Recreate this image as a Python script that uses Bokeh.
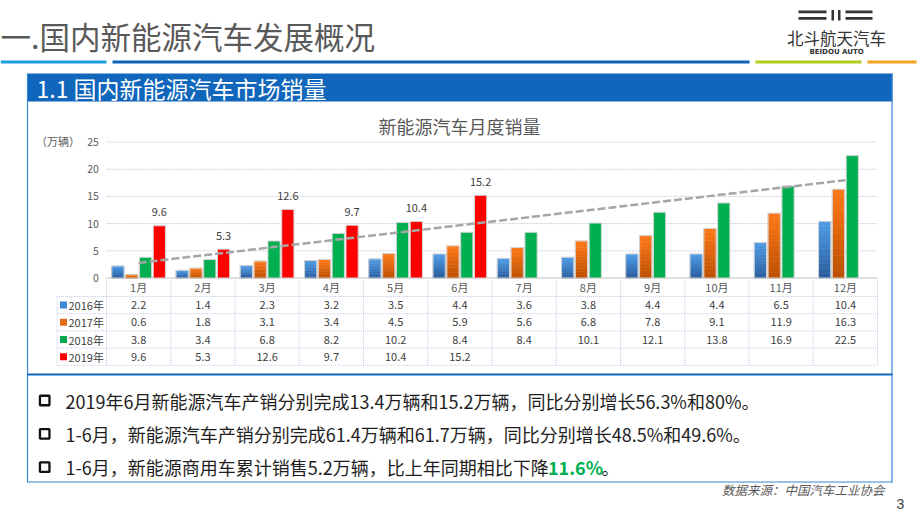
import numpy as np
from bokeh.plotting import figure
from bokeh.models import Range1d
from bokeh.core.properties import value
from bokeh.embed import file_html
from bokeh.resources import INLINE

# ---------------- data ----------------
months = ["1月", "2月", "3月", "4月", "5月", "6月", "7月", "8月", "9月", "10月", "11月", "12月"]
years = ["2016年", "2017年", "2018年", "2019年"]
s2016 = [2.2, 1.4, 2.3, 3.2, 3.5, 4.4, 3.6, 3.8, 4.4, 4.4, 6.5, 10.4]
s2017 = [0.6, 1.8, 3.1, 3.4, 4.5, 5.9, 5.6, 6.8, 7.8, 9.1, 11.9, 16.3]
s2018 = [3.8, 3.4, 6.8, 8.2, 10.2, 8.4, 8.4, 10.1, 12.1, 13.8, 16.9, 22.5]
s2019 = [9.6, 5.3, 12.6, 9.7, 10.4, 15.2]
y_ticks = [0, 5, 10, 15, 20, 25]

page_title = "一.国内新能源汽车发展概况"
section_title = "1.1 国内新能源汽车市场销量"
chart_title = "新能源汽车月度销量"
unit_label = "（万辆）"
bullets = [
    "2019年6月新能源汽车产销分别完成13.4万辆和15.2万辆，同比分别增长56.3%和80%。",
    "1-6月，新能源汽车产销分别完成61.4万辆和61.7万辆，同比分别增长48.5%和49.6%。",
    "1-6月，新能源商用车累计销售5.2万辆，比上年同期相比下降",
]
highlight = "11.6%"
source_note = "数据来源：中国汽车工业协会"

# ---------------- layout ----------------
W, H = 920, 518
X0, Y0 = 0, 0
CJK = "Noto Sans CJK SC"

p = figure(width=W, height=H, output_backend="svg", toolbar_location=None,
           x_range=Range1d(X0, X0 + W), y_range=Range1d(Y0 + H, Y0),
           x_axis_location=None, y_axis_location=None, min_border=0,
           outline_line_color=None, background_fill_color="white")
p.grid.visible = False

# chart scales (category units / value units) mapped over the same frame
PX_L, CAT_W = 106.0, 64.25
Y_ZERO, PX_PER = 277.5, 5.44
p.extra_x_ranges = {"cx": Range1d((X0 - PX_L) / CAT_W, (X0 + W - PX_L) / CAT_W)}
p.extra_y_ranges = {"cy": Range1d((Y_ZERO - (Y0 + H)) / PX_PER, (Y_ZERO - Y0) / PX_PER)}
CH = dict(x_range_name="cx", y_range_name="cy")


def txt(x, y, s, size, color="#404040", align="left", baseline="middle",
        font=CJK, style="normal", **kw):
    if not isinstance(x, (list, tuple)):
        x, y, s = [x], [y], [s]
    p.text(x=x, y=y, text=s, text_font=value(font), text_font_size=f"{size}px",
           text_color=color, text_align=align, text_baseline=baseline,
           text_font_style=style, **kw)


def mix(c1, c2, t):
    a = [int(c1[i:i + 2], 16) for i in (1, 3, 5)]
    b = [int(c2[i:i + 2], 16) for i in (1, 3, 5)]
    return "#%02x%02x%02x" % tuple(round(a[k] + (b[k] - a[k]) * t) for k in range(3))


# ---------------- header ----------------
txt(0, 35, page_title, 30.5, color="#595959")
p.segment(x0=[0, 112, 755, 867], x1=[106, 749, 861, 916], y0=[61.5] * 4, y1=[61.5] * 4,
          line_color=["#1d9fe2", "#0e62b6", "#b2cb1c", "#f6a321"], line_width=3)

# logo
p.quad(left=[798, 798, 845, 845], right=[826, 826, 872, 872],
       top=[10, 16.5, 10, 16.5], bottom=[12.8, 19.3, 12.8, 19.3], fill_color="#333333", line_color=None)
p.quad(left=[831, 837.5], right=[833.5, 840], top=[9.5, 9.5], bottom=[20, 20],
       fill_color="#333333", line_color=None)
txt(836, 37.5, "北斗航天汽车", 16.5, color="#333333", align="center")
txt(836, 51.5, "BEIDOU AUTO", 7, color="#333333", align="center", font="DejaVu Sans", style="bold")

# section band and frame
p.quad(left=[27], right=[892], top=[73], bottom=[101], fill_color="#1066bb", line_color=None)
txt(36, 87.5, section_title, 23, color="white")
p.segment(x0=[27, 891.5, 27], x1=[27, 891.5, 892], y0=[73, 73, 481.5], y1=[482, 482, 481.5],
          line_color="#3a86d4", line_width=1.2)
p.segment(x0=[27], x1=[892], y0=[374], y1=[374], line_color="#0e66bb", line_width=2)

# ---------------- chart ----------------
txt(459, 125, chart_title, 18, color="#595959", align="center")
txt(57.5, 140.5, unit_label, 11, color="#595959", align="center")

# gridlines & axis
gl = y_ticks[1:]
p.segment(x0=[0] * len(gl), x1=[12] * len(gl), y0=gl, y1=gl, line_color="#cdd0e4",
          line_width=1, line_dash="2 1", **CH)
p.segment(x0=[0], x1=[12], y0=[0], y1=[0], line_color="#bfbfbf", line_width=1, **CH)
txt([-0.12] * len(y_ticks), y_ticks, [str(t) for t in y_ticks], 10.5, color="#595959",
    align="right", **CH)

# bars
offsets = [-0.3225, -0.1075, 0.1075, 0.3225]
BW = 0.19
series = [s2016, s2017, s2018, s2019]
grads = [("#2a5c9c", "#4f9de8"), ("#bb4f00", "#ff7a1a"), ("#00b050", "#00b050"), ("#ff0000", "#ff0000")]
N = 12
for j, vals in enumerate(series):
    xs = [i + 0.5 + offsets[j] for i in range(len(vals))]
    c0, c1 = grads[j]
    if c0 != c1:
        bx, bb, bt, bc = [], [], [], []
        for x, v in zip(xs, vals):
            for k in range(N):
                bx.append(x)
                bb.append(v * k / N)
                bt.append(v * (k + 1) / N)
                bc.append(mix(c0, c1, (k + 0.5) / N))
        p.vbar(x=bx, bottom=bb, top=bt, width=BW, fill_color=bc, line_color=bc,
               line_width=0.6, **CH)
        p.vbar(x=xs, top=vals, bottom=0, width=BW, fill_alpha=0, line_color="#d4d4d4",
               line_width=1, **CH)
    else:
        p.vbar(x=xs, top=vals, bottom=0, width=BW, fill_color=c0, line_color="#d4d4d4",
               line_width=1, **CH)

# data labels (2019)
txt([i + 0.5 + offsets[3] for i in range(len(s2019))], [v + 2.5 for v in s2019],
    [f"{v:.1f}" for v in s2019], 11, color="#404040", align="center", **CH)

# trend line (linear fit of 2018)
xi = np.arange(1, 13)
k1, k0 = np.polyfit(xi, s2018, 1)
p.line(x=[0.5, 11.5], y=[k1 * 1 + k0, k1 * 12 + k0], line_color="#a6a6a6",
       line_width=2.5, line_dash="8 3", **CH)

# ---------------- data table ----------------
T_TOP, ROW_H, T_LEFT, T_RIGHT = 296.0, 17.2, 56.7, 877.0
T_BOT = T_TOP + ROW_H * len(years)
tbl = dict(line_color="#c8cbe6", line_width=1, line_dash="1 1")
hy = [T_TOP + ROW_H * r for r in range(len(years) + 1)]
p.segment(x0=[T_LEFT] * len(hy), x1=[T_RIGHT] * len(hy), y0=hy, y1=hy, **tbl)
p.segment(x0=list(range(13)), x1=list(range(13)), y0=[Y_ZERO] * 13, y1=[T_BOT] * 13,
          x_range_name="cx", **tbl)
p.segment(x0=[T_LEFT], x1=[T_LEFT], y0=[T_TOP], y1=[T_BOT], **tbl)

txt([i + 0.5 for i in range(12)], [286.5] * 12, months, 11, color="#595959", align="center",
    x_range_name="cx")
key_cols = ["#3f86d4", "#e0691a", "#00a84f", "#ff0000"]
for j, (yl, vals) in enumerate(zip(years, series)):
    yc = T_TOP + ROW_H * (j + 0.5)
    p.rect(x=[63], y=[yc], width=7, height=7, width_units="screen", height_units="screen",
           fill_color=key_cols[j], line_color=None)
    txt(68, yc, yl, 11, color="#404040")
    txt([i + 0.5 for i in range(len(vals))], [yc] * len(vals), [f"{v:.1f}" for v in vals],
        11, color="#404040", align="center", x_range_name="cx")

# ---------------- bullets ----------------
by = [400, 433.3, 466.7]
p.rect(x=[44.2] * 3, y=by, width=9.5, height=9.5, width_units="screen", height_units="screen",
       fill_color="white", line_color="#111111", line_width=2.3)
for yb, s in zip(by, bullets):
    txt(65, yb, s, 18, color="#1e1e1e")
txt(547.5, by[2], highlight, 18, color="#00b050", style="bold")
txt(601, by[2], "。", 18, color="#1e1e1e")

txt(884, 488.5, source_note, 12.5, color="#595959", align="right", style="italic")
txt(900, 503, "3", 14, color="#404040", align="center", font="Liberation Sans")

open("out.html", "w").write(file_html(p, INLINE))
